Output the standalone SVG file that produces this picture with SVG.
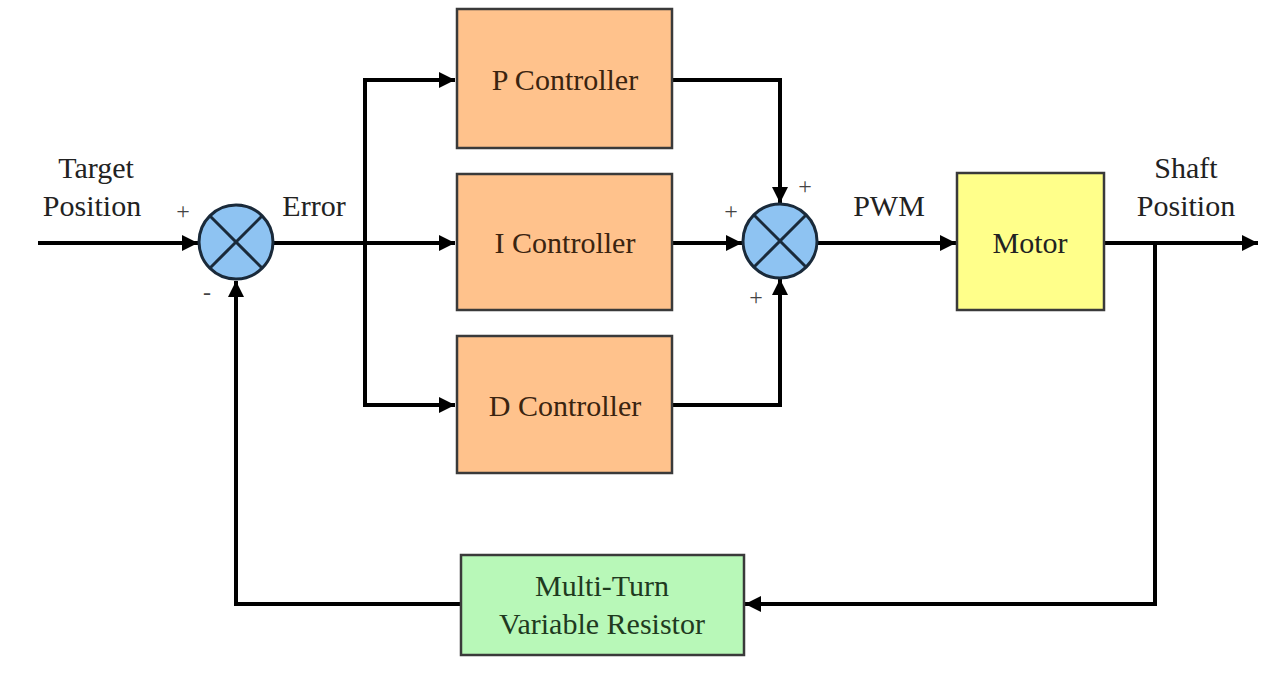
<svg xmlns="http://www.w3.org/2000/svg" width="1268" height="684" viewBox="0 0 1268 684">
<style>
.box{stroke:#3a3a3a;stroke-width:2.5}
.ctl{fill:#FFC28C}
.lbl{font-family:"Liberation Serif",serif;font-size:30px;fill:#222;text-anchor:middle}
.ctxt{fill:#3a2410}
.gtxt{fill:#1f3a1f}
.sign{font-family:"Liberation Serif",serif;font-size:24px;fill:#444;text-anchor:middle}
.wire{fill:none;stroke:#000;stroke-width:4}
.sum{fill:#8EC3F2;stroke:#1a2a3a;stroke-width:3}
.x{stroke:#1a2a3a;stroke-width:3}
</style>
<defs>
<marker id="ah" viewBox="0 0 10 10" refX="10" refY="5" markerWidth="4" markerHeight="4" markerUnits="strokeWidth" orient="auto">
<path d="M0,0 L10,5 L0,10 z" fill="#000"/>
</marker>
</defs>
<rect width="1268" height="684" fill="#fff"/>
<g id="connectors">
<path class="wire" d="M38,243 L198,243" marker-end="url(#ah)"/>
<path class="wire" d="M274,243 L455,243" marker-end="url(#ah)"/>
<path class="wire" d="M365,243 L365,80 L455,80" marker-end="url(#ah)"/>
<path class="wire" d="M365,243 L365,405 L455,405" marker-end="url(#ah)"/>
<path class="wire" d="M672,80 L780,80 L780,203" marker-end="url(#ah)"/>
<path class="wire" d="M672,243 L742,243" marker-end="url(#ah)"/>
<path class="wire" d="M672,405 L780,405 L780,279" marker-end="url(#ah)"/>
<path class="wire" d="M818,243 L956,243" marker-end="url(#ah)"/>
<path class="wire" d="M1104,243 L1258,243" marker-end="url(#ah)"/>
<path class="wire" d="M1155,243 L1155,604 L745,604" marker-end="url(#ah)"/>
<path class="wire" d="M461,604 L236,604 L236,281" marker-end="url(#ah)"/>
</g>
<g id="sum1">
<circle class="sum" cx="236" cy="242" r="37"/>
<line class="x" x1="210" y1="216" x2="262" y2="268"/>
<line class="x" x1="262" y1="216" x2="210" y2="268"/>
<text class="sign" x="183" y="219">+</text>
<text class="sign" x="207" y="300">-</text>
</g>
<g id="sum2">
<circle class="sum" cx="780" cy="241" r="37"/>
<line class="x" x1="754" y1="215" x2="806" y2="267"/>
<line class="x" x1="806" y1="215" x2="754" y2="267"/>
<text class="sign" x="731" y="219">+</text>
<text class="sign" x="805" y="194">+</text>
<text class="sign" x="756" y="305">+</text>
</g>
<g id="p-controller">
<rect class="box ctl" x="457" y="9" width="215" height="139"/>
<text class="lbl ctxt" x="565" y="90">P Controller</text>
</g>
<g id="i-controller">
<rect class="box ctl" x="457" y="174" width="215" height="136"/>
<text class="lbl ctxt" x="565" y="253">I Controller</text>
</g>
<g id="d-controller">
<rect class="box ctl" x="457" y="336" width="215" height="137"/>
<text class="lbl ctxt" x="565" y="416">D Controller</text>
</g>
<g id="motor">
<rect class="box" fill="#FFFF8A" x="957" y="173" width="147" height="137"/>
<text class="lbl" x="1030" y="253">Motor</text>
</g>
<g id="resistor">
<rect class="box" fill="#B8F8B8" x="461" y="555" width="283" height="100"/>
<text class="lbl gtxt" x="602" y="596">Multi-Turn</text>
<text class="lbl gtxt" x="602" y="634">Variable Resistor</text>
</g>
<g id="labels">
<text class="lbl" x="96" y="178">Target</text>
<text class="lbl" x="92" y="216">Position</text>
<text class="lbl" x="314" y="216">Error</text>
<text class="lbl" x="889" y="216">PWM</text>
<text class="lbl" x="1186" y="178">Shaft</text>
<text class="lbl" x="1186" y="216">Position</text>
</g>
</svg>
